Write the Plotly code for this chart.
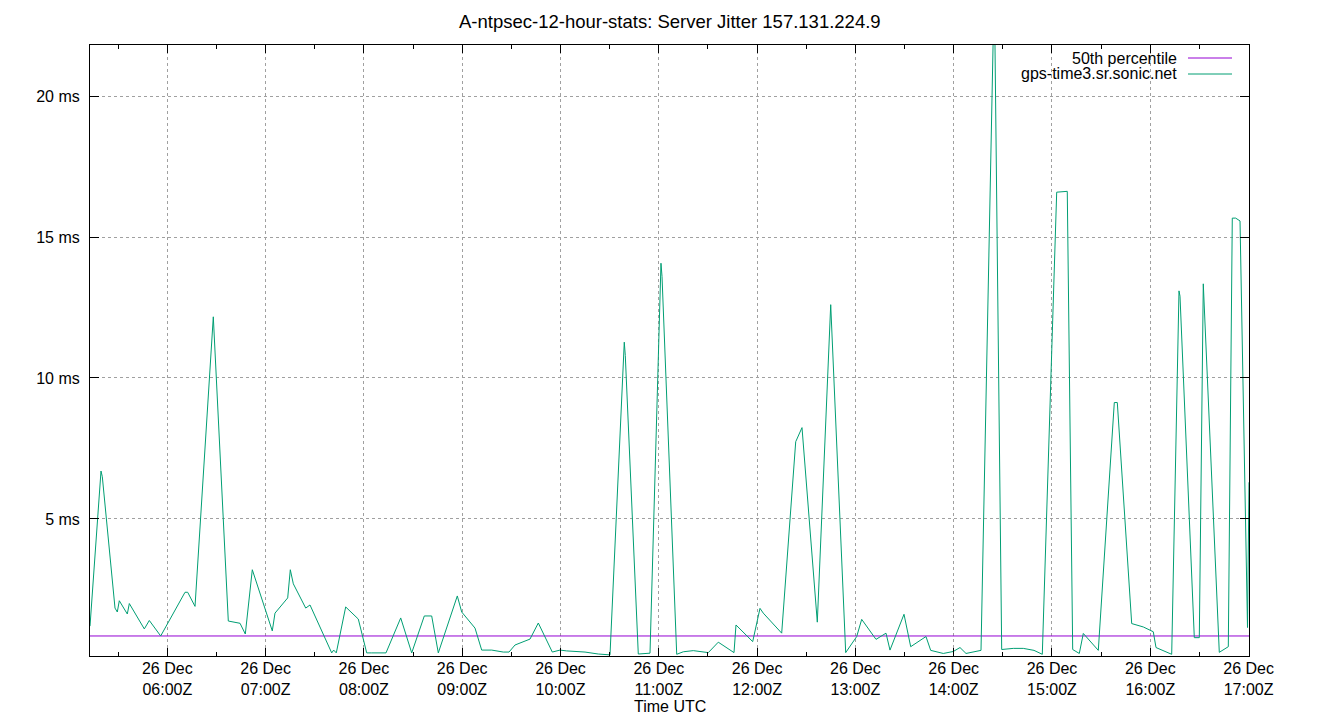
import plotly.graph_objects as go

# ---------------- data ----------------
day = "2023-12-26"
times = [
    "05:12:49", "05:19:32", "05:20:20", "05:28:05", "05:29:29", "05:30:42", "05:35:35", "05:36:49",
    "05:45:58", "05:49:01", "05:55:58", "06:10:48", "06:12:27", "06:16:55", "06:28:05", "06:37:14",
    "06:44:23", "06:47:37", "06:51:53", "07:04:05", "07:05:44", "07:13:29", "07:15:05", "07:16:55",
    "07:24:29", "07:27:06", "07:40:21", "07:41:34", "07:43:09", "07:48:53", "07:56:35", "08:01:43",
    "08:04:46", "08:13:29", "08:22:28", "08:29:11", "08:36:52", "08:41:23", "08:45:25", "08:57:01",
    "08:59:42", "09:07:49", "09:11:54", "09:18:01", "09:25:05", "09:28:34", "09:32:14", "09:41:23",
    "09:46:27", "09:55:00", "09:59:42", "10:03:47", "10:14:58", "10:23:04", "10:30:13", "10:38:56",
    "10:39:33", "10:47:29", "10:54:38", "11:01:20", "11:01:58", "11:10:56", "11:14:58", "11:21:04",
    "11:30:13", "11:36:19", "11:45:54", "11:47:07", "11:57:19", "12:01:46", "12:03:47", "12:15:01",
    "12:23:34", "12:27:25", "12:36:45", "12:44:56", "12:54:05", "13:00:48", "13:03:51", "13:12:35",
    "13:18:41", "13:21:07", "13:29:40", "13:33:45", "13:43:05", "13:45:58", "13:53:39", "13:59:45",
    "14:03:51", "14:07:31", "14:16:40", "14:24:47", "14:29:18", "14:36:23", "14:42:29", "14:49:01",
    "14:54:05", "15:02:52", "15:09:20", "15:12:38", "15:16:40", "15:19:07", "15:28:16", "15:38:02",
    "15:39:52", "15:48:39", "15:55:44", "16:01:50", "16:03:29", "16:13:04", "16:17:31", "16:18:08",
    "16:26:52", "16:29:55", "16:32:21", "16:42:07", "16:47:37", "16:50:03", "16:52:08", "16:54:46",
    "16:59:20", "17:00:15",
]
jitter_ms = [
    1.20, 6.70, 6.50, 1.84, 1.70, 2.10, 1.63, 2.00,
    1.10, 1.40, 0.85, 2.40, 2.40, 1.90, 12.17, 1.38,
    1.30, 0.92, 3.20, 1.03, 1.66, 2.20, 3.20, 2.70,
    1.84, 1.95, 0.25, 0.35, 0.25, 1.88, 1.45, 0.25,
    0.25, 0.25, 1.49, 0.25, 1.56, 1.56, 0.25, 2.27,
    1.70, 1.13, 0.35, 0.35, 0.28, 0.28, 0.53, 0.74,
    1.31, 0.28, 0.35, 0.32, 0.28, 0.21, 0.18, 11.27,
    10.80, 0.21, 0.24, 14.07, 13.60, 0.20, 0.29, 0.33,
    0.26, 0.63, 0.26, 1.24, 0.65, 1.83, 1.66, 0.95,
    7.74, 8.24, 1.34, 12.60, 0.26, 0.83, 1.44, 0.73,
    0.95, 0.35, 1.62, 0.47, 0.83, 0.34, 0.23, 0.30,
    0.44, 0.23, 0.34, 24.00, 0.37, 0.41, 0.41, 0.34,
    0.20, 16.59, 16.62, 0.37, 0.23, 0.94, 0.34, 9.13,
    9.13, 1.29, 1.17, 1.00, 0.44, 0.20, 13.09, 12.90,
    0.79, 0.79, 13.34, 0.27, 0.47, 15.67, 15.67, 15.57,
    1.15, 6.30,
]
p50_ms = 0.85
series_name = "gps-time3.sr.sonic.net"
p50_name = "50th percentile"
tick_hours = ["06:00", "07:00", "08:00", "09:00", "10:00", "11:00",
              "12:00", "13:00", "14:00", "15:00", "16:00", "17:00"]
y_ticks = [5, 10, 15, 20]
title_text = "A-ntpsec-12-hour-stats: Server Jitter 157.131.224.9"
x_title = "Time UTC"

# ---------------- figure ----------------
FONT = "Liberation Sans, Arial, sans-serif"
FS = 16
FS_TITLE = 18.5
PURPLE = "#9400d3"
TEAL = "#009e73"

x = [f"{day} {t}" for t in times]
x_range = [x[0], x[-1]]

fig = go.Figure()
fig.add_trace(go.Scatter(x=x_range, y=[p50_ms, p50_ms], mode="lines",
                         name=p50_name, line=dict(color=PURPLE, width=1)))
fig.add_trace(go.Scatter(x=x, y=jitter_ms, mode="lines", name=series_name,
                         line=dict(color=TEAL, width=1)))

# the page body adds an 8px offset, so the figure is sized 8px smaller
fig.update_layout(
    width=1332, height=712,
    margin=dict(l=82, r=91, t=37, b=64, autoexpand=False),
    paper_bgcolor="white", plot_bgcolor="white",
    showlegend=False,
    font=dict(family=FONT, size=FS, color="black"),
)
fig.update_xaxes(
    range=x_range, type="date",
    tickmode="array",
    tickvals=[f"{day} {h}" for h in tick_hours],
    ticktext=[f"26 Dec<br>{h}Z" for h in tick_hours],
    ticks="inside", ticklen=8, tickwidth=1, tickcolor="black",
    showline=True, linecolor="black", linewidth=1, mirror="ticks",
    showgrid=True, gridcolor="#a0a0a0", griddash="dot", gridwidth=1,
    zeroline=False, automargin=False, ticklabelstandoff=-2,
    minor=dict(tickmode="linear", tick0=f"{day} 05:30", dtick=1800000,
               ticks="inside", ticklen=4, tickcolor="black", showgrid=False),
    tickfont=dict(family=FONT, size=FS, color="black"),
)
fig.update_yaxes(
    range=[0.14, 21.81],
    tickmode="array", tickvals=y_ticks, ticktext=[f"{v} ms" for v in y_ticks],
    ticks="inside", ticklen=9, tickwidth=1, tickcolor="black",
    showline=True, linecolor="black", linewidth=1, mirror="ticks",
    showgrid=True, gridcolor="#a0a0a0", griddash="dot", gridwidth=1,
    zeroline=False, automargin=False, ticklabelstandoff=6,
    tickfont=dict(family=FONT, size=FS, color="black"),
)

pw, ph = 1249 - 90, 656 - 45

# title and axis title
fig.add_annotation(text=title_text, xref="paper", yref="paper",
                   x=(670 - 90) / pw, y=1 + (45 - 21) / ph, xanchor="center", yanchor="middle",
                   showarrow=False, font=dict(family=FONT, size=FS_TITLE, color="black"))
fig.add_annotation(text=x_title, xref="paper", yref="paper",
                   x=(670 - 90) / pw, y=-(706 - 656) / ph, xanchor="center", yanchor="middle",
                   showarrow=False, font=dict(family=FONT, size=FS, color="black"))

# gnuplot-style key (text right-aligned, sample line on the right)
for i, (name, col) in enumerate([(p50_name, PURPLE), (series_name, TEAL)]):
    yy = 1 - (13 + 16 * i) / ph
    fig.add_annotation(text=name, xref="paper", yref="paper",
                       x=(1179 - 90) / pw, y=yy, xanchor="right", yanchor="middle",
                       showarrow=False, font=dict(family=FONT, size=FS, color="black"))
    fig.add_shape(type="line", xref="paper", yref="paper",
                  x0=(1188 - 90) / pw, x1=(1232 - 90) / pw, y0=yy, y1=yy,
                  line=dict(color=col, width=1))

fig.write_html("out.html")
